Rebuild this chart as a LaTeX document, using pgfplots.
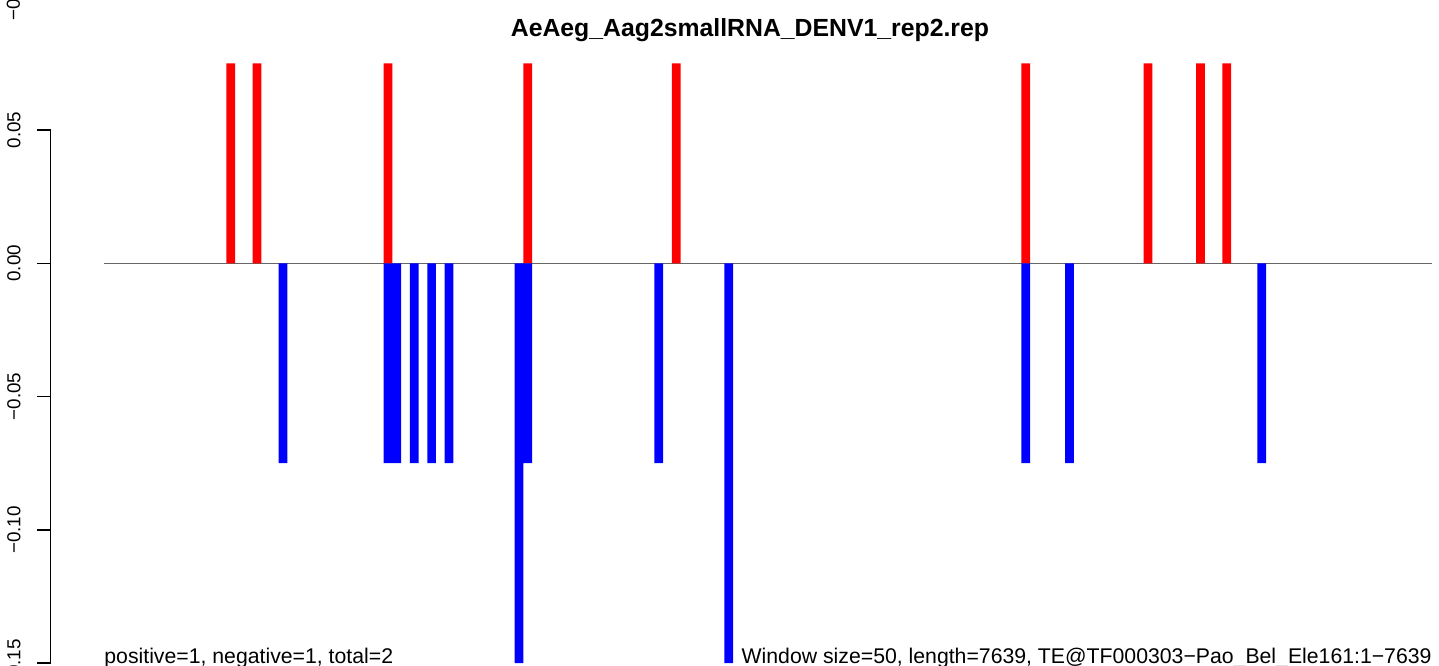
\documentclass[border=0pt]{standalone}
\usepackage{pgfplots}
\pgfplotsset{compat=1.18}
\usepackage{fontspec}
\setmainfont{Liberation Sans}
\definecolor{zeroline}{RGB}{102,102,102}
\begin{document}
\begin{tikzpicture}
\begin{axis}[
  scale only axis,
  width=694.15pt, height=333pt,
  xmin=-305.0, xmax=7640.1,
  ymin=-0.15105, ymax=0.09876,
  axis line style={draw=none},
  xtick=\empty,
  ytick={-0.15,-0.10,-0.05,0,0.05},
  yticklabels={−0.15,−0.10,−0.05,0.00,0.05},
  ytick pos=left,
  tick align=outside,
  major tick length=6.7pt,
  tick style={black, line width=0.75pt},
  yticklabel shift=8.5pt,
  yticklabel style={rotate=90, anchor=base, font=\fontsize{9.4}{11}\selectfont},
  clip=false,
]
% zero line
\addplot[zeroline, line width=0.5pt] coordinates {(0,0) (7600,0)};
% positive (red)
\addplot[ybar, bar width=50, bar shift=0pt, fill=red, draw=none] coordinates {
  (725,0.075) (875,0.075) (1625,0.075) (2425,0.075) (3275,0.075)
  (5275,0.075) (5975,0.075) (6275,0.075) (6425,0.075)
};
% negative (blue)
\addplot[ybar, bar width=50, bar shift=0pt, fill=blue, draw=none] coordinates {
  (1025,-0.075) (1625,-0.075) (1675,-0.075) (1775,-0.075) (1875,-0.075)
  (1975,-0.075) (2375,-0.15) (2425,-0.075) (3175,-0.075) (3575,-0.15)
  (5275,-0.075) (5525,-0.075) (6625,-0.075)
};
\draw[black, line width=0.75pt] (axis cs:-305.0,-0.15) -- (axis cs:-305.0,0.05);
\node[anchor=base, font=\fontsize{12.4}{14}\selectfont\bfseries] at (axis cs:3697,0.0850) {AeAeg\_Aag2smallRNA\_DENV1\_rep2.rep};
\node[anchor=base west, inner sep=0pt, font=\fontsize{10.62}{12}\selectfont] at (axis cs:0,-0.15) {positive=1, negative=1, total=2};
\node[anchor=base east, inner sep=0pt, font=\fontsize{10.62}{12}\selectfont] at (axis cs:7600,-0.15) {Window size=50, length=7639, TE@TF000303−Pao\_Bel\_Ele161:1−7639};
\node[rotate=90, anchor=base, inner sep=0pt, font=\fontsize{9.4}{11}\selectfont] at (axis cs:-480.7,0.1000) {−0.15};
\end{axis}
\pgfresetboundingbox
\path[use as bounding box] ([xshift=-25.35pt]current axis.south west) rectangle (current axis.north east);
\end{tikzpicture}
\end{document}
